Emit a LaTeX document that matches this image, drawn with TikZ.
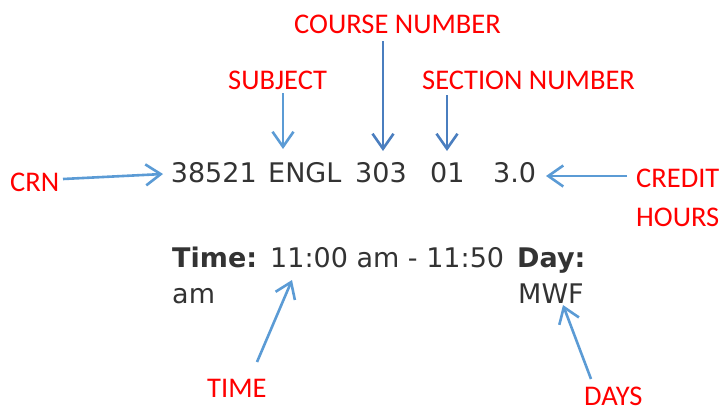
\documentclass[tikz,border=0pt]{standalone}
\usepackage{fontspec}
\setmainfont{Carlito}
\newfontfamily\schedfont{DejaVu Sans}
\usetikzlibrary{arrows.meta}
\definecolor{lblred}{HTML}{FF0000}
\definecolor{arrlight}{HTML}{5B9BD5}
\definecolor{arrdark}{HTML}{4A7EBF}
\definecolor{schedgrey}{HTML}{333333}
\tikzset{
  lbl/.style={anchor=base west, inner sep=0pt, text=lblred, font=\fontsize{28.5}{30}\selectfont},
  sched/.style={anchor=base west, inner sep=0pt, text=schedgrey, font=\schedfont\fontsize{27}{30}\selectfont},
  schedb/.style={sched, font=\schedfont\bfseries\fontsize{27}{30}\selectfont},
  arr/.style={draw=arrlight, line width=2.6pt, -{Straight Barb[length=15pt,width=21pt,line width=2.6pt]}},
  arrd/.style={arr, draw=arrdark}
}
\begin{document}
\begin{tikzpicture}[x=1pt,y=-1pt]
\useasboundingbox (0,0) rectangle (722,413);
% course record line
\node[sched] (crnval) at (170.7,182.7) {38521};
\node[sched] (subjval) at (268,182.7) {ENGL};
\node[sched] (numval) at (355,182.7) {303};
\node[sched] (secval) at (430,182.7) {01};
\node[sched] (hrsval) at (493,182.7) {3.0};
% meeting time line
\node[schedb] (timehd) at (172,267) {Time:};
\node[sched] (timeval) at (270,267) {11:00 am - 11:50};
\node[schedb] (dayhd) at (517,267) {Day:};
\node[sched] (ampm) at (172,303) {am};
\node[sched] (dayval) at (518,303) {MWF};
% field labels
\node[lbl] (course) at (294,33) {COURSE NUMBER};
\node[lbl] (subject) at (228,89) {SUBJECT};
\node[lbl] (section) at (422,89) {SECTION NUMBER};
\node[lbl] (crn) at (10,191) {CRN};
\node[lbl] (credit) at (636,187) {CREDIT};
\node[lbl] (hours) at (636,226) {HOURS};
\node[lbl] (timelbl) at (207,397) {TIME};
\node[lbl] (dayslbl) at (584,405) {DAYS};
% arrow end points
\coordinate (courseA) at (383,41);
\coordinate (courseB) at (383,151);
\coordinate (subjA) at (283,93);
\coordinate (subjB) at (283,149);
\coordinate (secA) at (447,95);
\coordinate (secB) at (447,151);
\coordinate (crnA) at (63,179);
\coordinate (crnB) at (163,174);
\coordinate (credA) at (627,176);
\coordinate (credB) at (546,176);
\coordinate (timeA) at (257,362);
\coordinate (timeB) at (292,280);
\coordinate (daysA) at (591,379);
\coordinate (daysB) at (563,305);
% arrows
\draw[arrd] (courseA) -- (courseB);
\draw[arr] (subjA) -- (subjB);
\draw[arrd] (secA) -- (secB);
\draw[arr] (crnA) -- (crnB);
\draw[arr] (credA) -- (credB);
\draw[arr] (timeA) -- (timeB);
\draw[arr] (daysA) -- (daysB);
\end{tikzpicture}
\end{document}
